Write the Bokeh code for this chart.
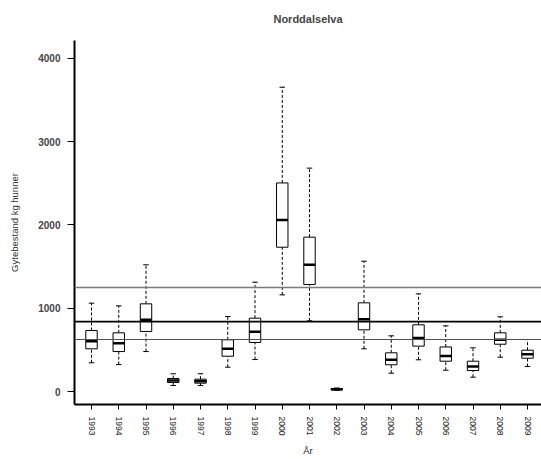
from bokeh.plotting import figure
from bokeh.models import FixedTicker, Span, Title
from bokeh.embed import file_html
from bokeh.resources import INLINE

years = [1993, 1994, 1995, 1996, 1997, 1998, 1999, 2000, 2001, 2002, 2003, 2004, 2005, 2006, 2007, 2008, 2009]
lo = [345, 324, 480, 72, 72, 292, 384, 1161, 849, 15, 513, 220, 381, 256, 172, 412, 300]
q1 = [513, 480, 721, 108, 100, 424, 589, 1733, 1285, 20, 741, 321, 545, 364, 252, 568, 400]
med = [604, 580, 861, 132, 124, 513, 717, 2060, 1522, 28, 869, 381, 642, 428, 300, 621, 448]
q3 = [733, 705, 1053, 156, 148, 621, 881, 2505, 1854, 35, 1065, 465, 801, 535, 364, 705, 496]
hi = [1061, 1029, 1522, 213, 213, 901, 1313, 3655, 2683, 42, 1565, 669, 1173, 789, 525, 897, 625]
ref_levels = [1250, 840, 625]
ref_colors = ["#7a7a7a", "#000000", "#505050"]
ref_widths = [1.6, 1.6, 1.1]
y_ticks = [0, 1000, 2000, 3000, 4000]

FONT = "Liberation Sans"
W, H = 541, 459
LEFT = 74

p = figure(width=W, height=H, output_backend="svg", toolbar_location=None,
           x_range=(years[0] - 0.624, years[0] - 0.624 + (W - LEFT) / 27.25),
           y_range=(-156, 4216),
           min_border_left=LEFT, min_border_right=0, min_border_top=40, min_border_bottom=H - 404)

# spacer (closest to frame) then the real title above it
p.add_layout(Title(text=" ", text_font_size="11px", standoff=0), "above")
p.add_layout(Title(text="Norddalselva", align="center", text_font=FONT,
                   text_font_size="11px", text_font_style="bold", standoff=4), "above")

p.outline_line_color = None
p.xgrid.visible = False
p.ygrid.visible = False

half = 0.21
cap = 0.1
x0 = [y - half for y in years]
x1 = [y + half for y in years]
c0 = [y - cap for y in years]
c1 = [y + cap for y in years]

for lev, col, w in zip(ref_levels, ref_colors, ref_widths):
    p.add_layout(Span(location=lev, dimension="width", line_color=col, line_width=w))

# whiskers
p.segment(x0=years, y0=q3, x1=years, y1=hi, line_color="black", line_width=1, line_dash="3 2")
p.segment(x0=years, y0=lo, x1=years, y1=q1, line_color="black", line_width=1, line_dash="3 2")
# caps
p.segment(x0=c0, y0=hi, x1=c1, y1=hi, line_color="black", line_width=1)
p.segment(x0=c0, y0=lo, x1=c1, y1=lo, line_color="black", line_width=1)
# boxes
p.vbar(x=years, top=q3, bottom=q1, width=2 * half, fill_color="white", line_color="black", line_width=1)
# medians
p.segment(x0=x0, y0=med, x1=x1, y1=med, line_color="black", line_width=2.5)

# axes
xa = p.xaxis[0]
xa.ticker = FixedTicker(ticks=years)
xa.major_label_overrides = {y: str(y) for y in years}
xa.major_label_orientation = "vertical"
xa.major_label_text_font = FONT
xa.major_label_text_font_size = "8.5px"
xa.major_label_text_color = "#222222"
xa.major_label_standoff = 7
xa.axis_label = "År"
xa.axis_label_text_font = FONT
xa.axis_label_text_font_size = "9.5px"
xa.axis_label_text_font_style = "normal"
xa.axis_label_text_color = "#222222"
xa.axis_label_standoff = 7
xa.axis_line_width = 2
xa.axis_line_color = "black"
xa.major_tick_out = 5
xa.major_tick_in = 0
xa.minor_tick_line_color = None

ya = p.yaxis[0]
ya.ticker = FixedTicker(ticks=y_ticks)
ya.major_label_overrides = {t: str(t) for t in y_ticks}
ya.major_label_orientation = "horizontal"
ya.major_label_text_font = FONT
ya.major_label_text_font_size = "10px"
ya.major_label_text_font_style = "bold"
ya.major_label_standoff = 7
ya.axis_label = "Gytebestand kg hunner"
ya.axis_label_text_font = FONT
ya.axis_label_text_font_size = "9.5px"
ya.axis_label_text_font_style = "normal"
ya.axis_label_text_color = "#333333"
ya.axis_label_standoff = 15
ya.axis_line_width = 2
ya.axis_line_color = "black"
ya.major_tick_out = 7
ya.major_tick_in = 0
ya.major_tick_line_width = 1.2
ya.minor_tick_line_color = None

open("out.html", "w").write(file_html(p, INLINE))
